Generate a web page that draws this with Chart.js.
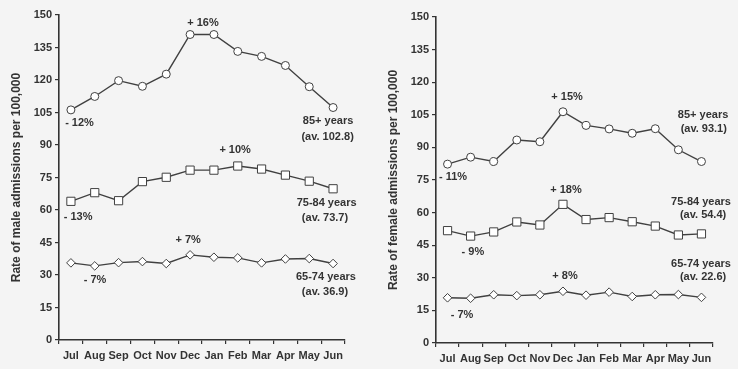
<!DOCTYPE html>
<html>
<head>
<meta charset="utf-8">
<script src="https://cdn.jsdelivr.net/npm/chart.js@4/dist/chart.umd.min.js"></script>
<style>
  body { margin: 0; background: #f4f4f4; }
  #wrap { position: relative; width: 738px; height: 369px; }
  #male { position: absolute; left: 0; top: 0; }
  #female { position: absolute; left: 368px; top: 0; }
</style>
</head>
<body>
<div id="wrap">
  <canvas id="male" width="368" height="369"></canvas>
  <canvas id="female" width="370" height="369"></canvas>
</div>
<script>
const months = ['Jul', 'Aug', 'Sep', 'Oct', 'Nov', 'Dec', 'Jan', 'Feb', 'Mar', 'Apr', 'May', 'Jun'];
const yTicks = [0, 15, 30, 45, 60, 75, 90, 105, 120, 135, 150];

// male rates
const male85 = [106.2, 112.4, 119.7, 117.1, 122.7, 141, 141, 133.2, 130.9, 126.7, 116.9, 107.3];
const male75 = [64, 68, 64.3, 73.1, 75.1, 78.4, 78.4, 80.3, 78.9, 76.1, 73.3, 69.8];
const male65 = [35.6, 34.2, 35.7, 36.2, 35.3, 39.3, 38.2, 37.9, 35.6, 37.4, 37.6, 35.3];

// female rates
const female85 = [82.3, 85.5, 83.5, 93.4, 92.6, 106.4, 100.1, 98.5, 96.5, 98.6, 88.9, 83.5];
const female75 = [51.7, 49.2, 51.1, 55.7, 54.3, 63.8, 56.8, 57.7, 55.8, 53.8, 49.7, 50.2];
const female65 = [20.8, 20.6, 22.2, 21.8, 22.2, 23.8, 22.0, 23.4, 21.4, 22.2, 22.3, 21.0];

// annotations: text, month index, value
const maleNoteText = ['+ 16%', '- 12%', '85+ years', '(av. 102.8)', '+ 10%', '- 13%', '75-84 years', '(av. 73.7)', '+ 7%', '- 7%', '65-74 years', '(av. 36.9)'];
const maleNoteX = [5.54, 0.36, 10.79, 10.77, 6.89, 0.3, 10.73, 10.66, 4.92, 1.01, 10.7, 10.66];
const maleNoteY = [146.3, 100.2, 101.2, 93.8, 87.7, 56.9, 63.1, 56.2, 46.2, 27.7, 29.2, 22.2];

const femaleNoteText = ['+ 15%', '- 11%', '85+ years', '(av. 93.1)', '+ 18%', '- 9%', '75-84 years', '(av. 54.4)', '+ 8%', '- 7%', '65-74 years', '(av. 22.6)'];
const femaleNoteX = [5.18, 0.24, 11.07, 11.1, 5.13, 1.1, 10.98, 11.07, 5.09, 0.63, 10.98, 11.07];
const femaleNoteY = [113.2, 76.4, 104.9, 98.5, 70.4, 41.9, 64.9, 58.9, 30.8, 12.9, 36.3, 30.4];

const ink = '#333333';
const lineInk = '#404040';
const fontFamily = '"Liberation Sans", Arial, sans-serif';

const notesPlugin = {
  id: 'notes',
  afterDatasetsDraw(chart, args, opts) {
    const ctx = chart.ctx;
    const xs = chart.scales.x;
    const ys = chart.scales.y;
    ctx.save();
    ctx.fillStyle = ink;
    ctx.font = 'bold 11px ' + fontFamily;
    ctx.textAlign = 'center';
    ctx.textBaseline = 'middle';
    for (let i = 0; i < opts.text.length; i++) {
      ctx.fillText(opts.text[i], xs.getPixelForValue(opts.x[i]), ys.getPixelForValue(opts.y[i]));
    }
    ctx.restore();
  },
};

function series(data, style, radius) {
  return {
    data: data,
    borderColor: lineInk,
    borderWidth: 1.4,
    pointStyle: style,
    pointRadius: radius,
    pointHoverRadius: radius,
    pointBackgroundColor: '#ffffff',
    pointBorderColor: lineInk,
    pointBorderWidth: 1,
    fill: false,
    tension: 0,
  };
}

function makeChart(id, title, d85, d75, d65, noteText, noteX, noteY, box) {
  const ctx = document.getElementById(id).getContext('2d');
  return new Chart(ctx, {
    type: 'line',
    data: {
      labels: months,
      datasets: [
        series(d85, 'circle', 4),
        series(d75, 'rect', 5.8),
        series(d65, 'rectRot', 4.3),
      ],
    },
    plugins: [notesPlugin],
    options: {
      responsive: false,
      maintainAspectRatio: false,
      animation: false,
      layout: {
        padding: { left: 0, top: box.top, right: box.right, bottom: 0 },
      },
      scales: {
        x: {
          offset: true,
          grid: {
            offset: true,
            drawOnChartArea: false,
            drawTicks: true,
            tickLength: 4,
            color: ink,
            lineWidth: 1.2,
          },
          border: { color: ink, width: 1.6 },
          ticks: {
            color: ink,
            padding: 5,
            autoSkip: false,
            minRotation: 0,
            maxRotation: 0,
            font: { family: fontFamily, size: 11, weight: 'bold' },
          },
          afterFit(scale) {
            scale.height = box.xHeight;
          },
        },
        y: {
          min: 0,
          max: 150,
          afterBuildTicks(scale) {
            scale.ticks = yTicks.map((v) => ({ value: v }));
          },
          grid: {
            drawOnChartArea: false,
            drawTicks: true,
            tickLength: 4,
            color: ink,
            lineWidth: 1.2,
          },
          border: { color: ink, width: 1.6 },
          ticks: {
            color: ink,
            padding: 3,
            font: { family: fontFamily, size: 11, weight: 'bold' },
          },
          title: {
            display: true,
            text: title,
            color: ink,
            padding: { top: box.titlePad, bottom: 0 },
            font: { family: fontFamily, size: 12, weight: 'bold' },
          },
          afterFit(scale) {
            scale.width = box.yWidth;
          },
        },
      },
      plugins: {
        legend: { display: false },
        tooltip: { enabled: false },
        notes: { text: noteText, x: noteX, y: noteY },
      },
    },
  });
}

makeChart('male', 'Rate of male admissions per 100,000', male85, male75, male65,
  maleNoteText, maleNoteX, maleNoteY,
  { top: 15, right: 23, xHeight: 29, yWidth: 59, titlePad: 9 });

makeChart('female', 'Rate of female admissions per 100,000', female85, female75, female65,
  femaleNoteText, femaleNoteX, femaleNoteY,
  { top: 17, right: 25, xHeight: 26, yWidth: 68, titlePad: 18 });
</script>
</body>
</html>
